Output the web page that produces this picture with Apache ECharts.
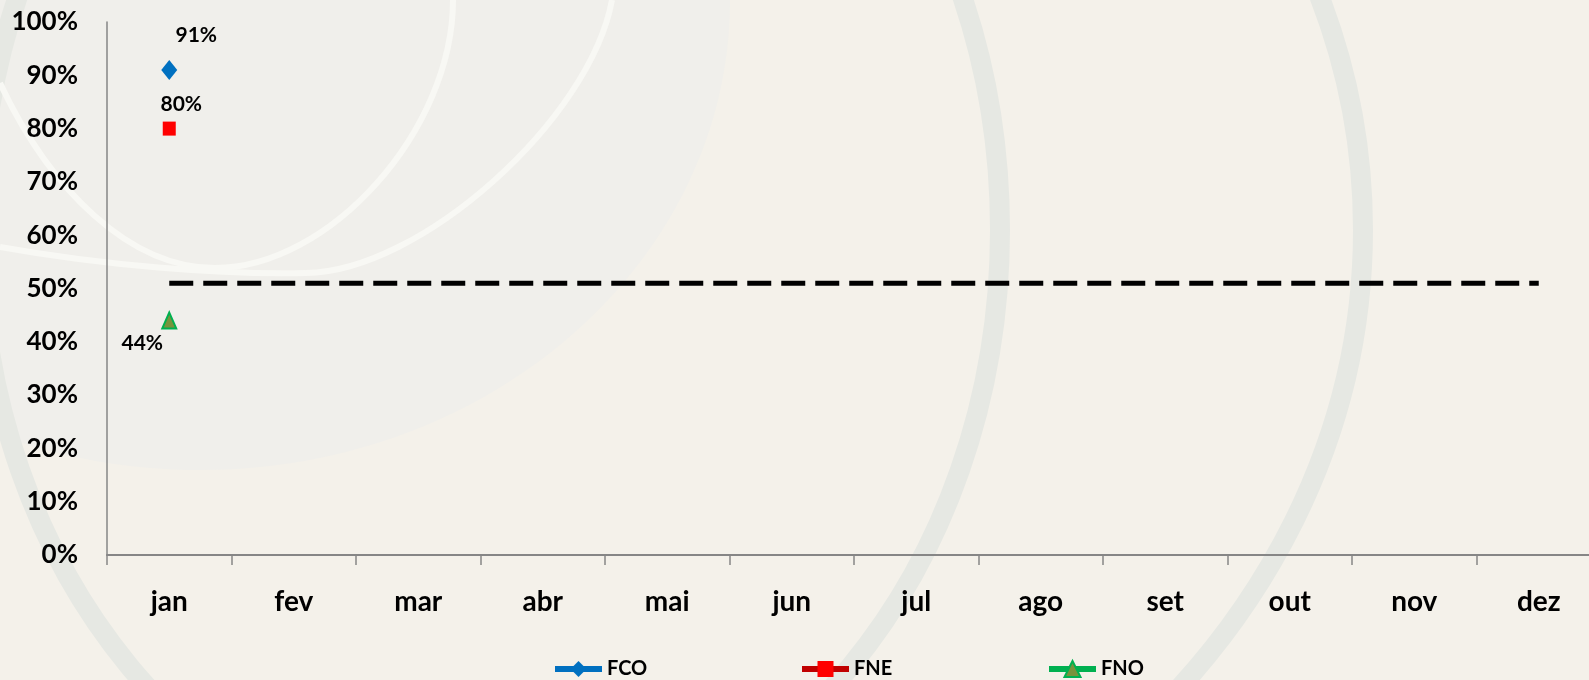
<!DOCTYPE html>
<html>
<head>
<meta charset="utf-8">
<script src="https://cdn.jsdelivr.net/npm/echarts@6/dist/echarts.min.js"></script>
<style>
  html, body { margin: 0; padding: 0; background: #f4f1ea; overflow: hidden; }
  /* o eixo x continua além da borda direita, como no original */
  #chart { width: 1601px; height: 680px; }
</style>
</head>
<body>
<div id="chart"></div>
<script>
// dados do gráfico
const meses = ['jan', 'fev', 'mar', 'abr', 'mai', 'jun', 'jul', 'ago', 'set', 'out', 'nov', 'dez'];
const fco = [91, null, null, null, null, null, null, null, null, null, null, null];
const fne = [80, null, null, null, null, null, null, null, null, null, null, null];
const fno = [44, null, null, null, null, null, null, null, null, null, null, null];
const meta = [51, 51, 51, 51, 51, 51, 51, 51, 51, 51, 51, 51];
const yTicks = [0, 100, 10]; // min, max, intervalo

const fonte = 'Lato, "Open Sans", sans-serif';

const chart = echarts.init(document.getElementById('chart'));

// fundo decorativo (arcos)
function curva(x1, y1, cx1, cy1, cx2, cy2, x2, y2, cor, larg) {
  return {
    type: 'bezierCurve',
    shape: { x1: x1, y1: y1, cpx1: cx1, cpy1: cy1, cpx2: cx2, cpy2: cy2, x2: x2, y2: y2 },
    style: { fill: null, stroke: cor, lineWidth: larg }
  };
}
const branco = '#f8f8f4';
const fundo = [
  { type: 'ellipse', shape: { cx: 200, cy: 0, rx: 530, ry: 470 }, style: { fill: '#f0efeb' } },
  { type: 'ellipse', shape: { cx: 490, cy: 230, rx: 510, ry: 617 }, style: { fill: null, stroke: '#e6e8e3', lineWidth: 20 } },
  { type: 'ellipse', shape: { cx: 490, cy: 230, rx: 873, ry: 746 }, style: { fill: null, stroke: '#e6e8e3', lineWidth: 20 } },
  curva(0, 83, 50, 190, 130, 268, 215, 268, branco, 6),
  curva(215, 268, 330, 268, 453, 130, 453, 0, branco, 6),
  curva(0, 247, 100, 265, 220, 275, 306, 273, branco, 6),
  curva(306, 273, 420, 272, 590, 120, 612, 0, branco, 6)
].map(e => Object.assign(e, { silent: true, z: -100 }));

function legenda(nome, left) {
  return {
    data: [nome],
    left: left,
    top: 659,
    padding: 0,
    itemWidth: 47,
    itemHeight: 20,
    selectedMode: false,
    lineStyle: { width: 6 },
    textStyle: { fontFamily: fonte, fontWeight: 'bold', fontSize: 20, color: '#000' }
  };
}

function serie(nome, dados, simbolo, tamanho, cor, corLinha, borda, offset) {
  return {
    name: nome,
    type: 'line',
    data: dados,
    symbol: simbolo,
    symbolSize: tamanho,
    showAllSymbol: true,
    connectNulls: false,
    itemStyle: { color: cor, borderColor: borda || cor, borderWidth: borda ? 2 : 0 },
    lineStyle: { color: corLinha, width: 6 },
    label: {
      show: true,
      position: 'inside',
      offset: offset,
      formatter: '{c}%',
      fontFamily: fonte,
      fontWeight: 'bold',
      fontSize: 21,
      color: '#000'
    },
    emphasis: { disabled: true },
    z: 5
  };
}

const option = {
  backgroundColor: '#f4f1ea',
  animation: false,
  graphic: fundo,
  grid: { left: 107, top: 22, right: 0, bottom: 125, containLabel: false },
  legend: [legenda('FCO', 552), legenda('FNE', 799), legenda('FNO', 1046)],
  xAxis: {
    type: 'category',
    data: meses,
    boundaryGap: true,
    axisLine: { lineStyle: { color: '#868686', width: 2 } },
    axisTick: { show: true, length: 10, lineStyle: { color: '#868686', width: 1.5 } },
    axisLabel: { margin: 33, fontFamily: fonte, fontWeight: 'bold', fontSize: 28, color: '#000' },
    splitLine: { show: false }
  },
  yAxis: {
    type: 'value',
    min: yTicks[0],
    max: yTicks[1],
    interval: yTicks[2],
    axisLine: { show: true, lineStyle: { color: '#868686', width: 1.5 } },
    axisTick: { show: false },
    axisLabel: { margin: 29, formatter: '{value}%', fontFamily: fonte, fontWeight: 'bold', fontSize: 26, color: '#000' },
    splitLine: { show: false }
  },
  series: [
    {
      name: 'Meta',
      type: 'line',
      data: meta,
      symbol: 'none',
      silent: true,
      lineStyle: { color: '#000', width: 5, type: [24, 10], cap: 'butt' },
      z: 3
    },
    serie('FCO', fco, 'diamond', [16, 20], '#0070c0', '#0070c0', null, [27, -35]),
    serie('FNE', fne, 'rect', [13, 14], '#ff0000', '#c00000', null, [12, -24]),
    serie('FNO', fno, 'triangle', [14, 16], '#77933c', '#00b050', '#00b050', [-27, 23])
  ]
};

chart.setOption(option);
</script>
</body>
</html>
